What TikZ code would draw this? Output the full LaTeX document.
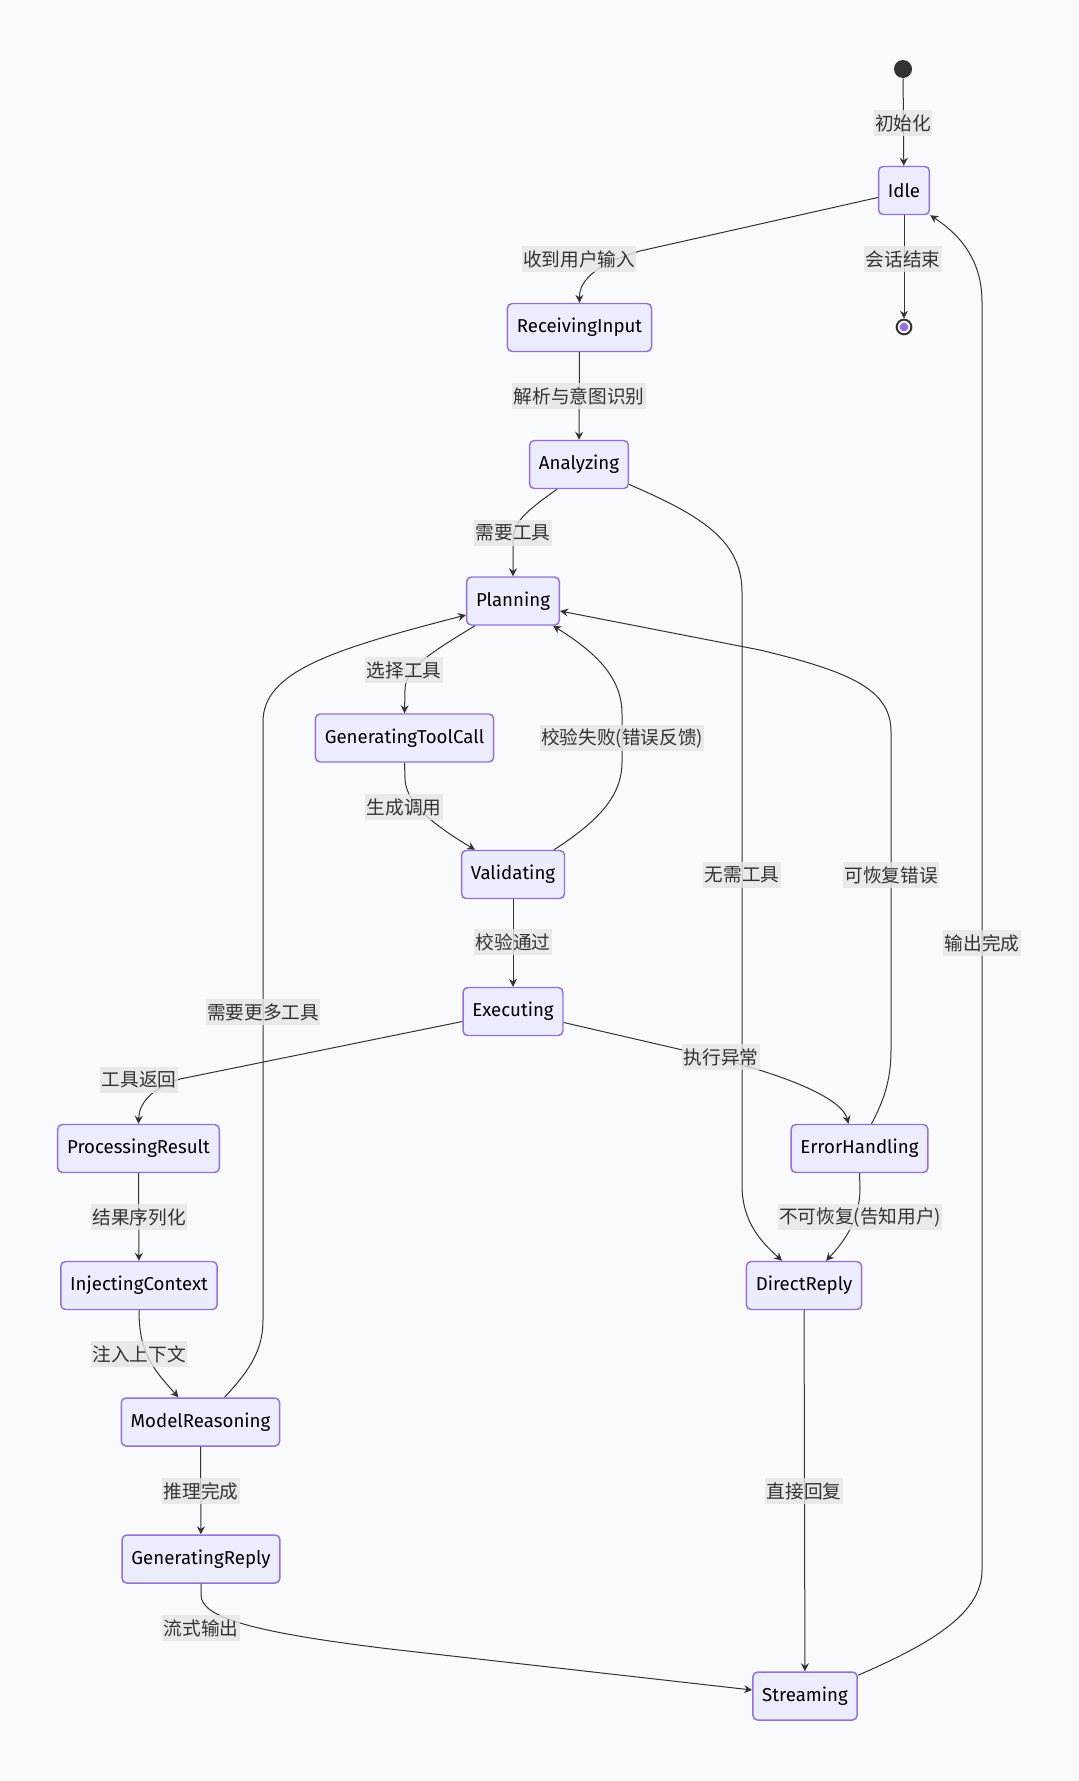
\documentclass[tikz,border=0pt]{standalone}
\usepackage{fontspec}
\setmainfont{Fira Sans}
\newfontfamily\cjk{Noto Sans CJK SC}
\usepackage{tikz}
\usetikzlibrary{arrows.meta, positioning, calc}
\definecolor{bgcol}{HTML}{F9FAFC}
\definecolor{nodefill}{HTML}{ECECFF}
\definecolor{nodeline}{HTML}{9370DB}
\definecolor{ink}{HTML}{333333}
\definecolor{lblfill}{HTML}{E5E5E5}

\begin{document}
\begin{tikzpicture}[x=0.75pt, y=-0.75pt,
  stbox/.style={draw=nodeline, fill=nodefill, line width=1.1pt, rounded corners=3.5pt,
    minimum height=36pt, inner xsep=7pt, text=black, font=\fontsize{14}{16}\selectfont},
  trans/.style={draw=ink, line width=0.75pt, -{Stealth[length=6pt,width=6pt,inset=2pt]}},
  lbl/.style={fill=lblfill, fill opacity=0.8, text opacity=1, text=ink, inner xsep=1pt,
    inner ysep=0pt, minimum height=20pt, font=\cjk\fontsize{14}{16}\selectfont}]
  % Background
  \fill[bgcol] (0,0) rectangle (1078,1781);

  % States
  \node[circle, fill=ink, minimum size=13.5pt, inner sep=0pt] (start) at (903,69) {};
  \node[stbox] (idle) at (904,190.5) {Idle};
  \node[circle, draw=ink, line width=1.5pt, fill=white, minimum size=11pt, inner sep=0pt,
    path picture={\fill[nodeline] (path picture bounding box.center) circle (3.3pt);}]
    (stop) at (904,327) {};
  \node[stbox] (recv) at (579.5,327.5) {ReceivingInput};
  \node[stbox] (ana) at (579,464.5) {Analyzing};
  \node[stbox] (plan) at (513,601) {Planning};
  \node[stbox] (gtc) at (404.5,738) {GeneratingToolCall};
  \node[stbox] (val) at (513,874.5) {Validating};
  \node[stbox] (exe) at (513,1011.5) {Executing};
  \node[stbox] (proc) at (138.5,1148.5) {ProcessingResult};
  \node[stbox] (err) at (859.5,1148.5) {ErrorHandling};
  \node[stbox] (inj) at (139,1285.5) {InjectingContext};
  \node[stbox] (direct) at (804,1285.5) {DirectReply};
  \node[stbox] (model) at (200.5,1422) {ModelReasoning};
  \node[stbox] (genrep) at (201,1559) {GeneratingReply};
  \node[stbox] (stream) at (805,1696) {Streaming};

  % Main flow
  \draw[trans] (start) -- (idle);
  \draw[trans] ($(idle.west)+(0,7)$) -- (640,251) .. controls (598,263) and (579,280) .. (recv.north);
  \draw[trans] (idle) -- (stop);
  \draw[trans] (recv) -- (ana);
  \draw[trans] ($(ana.south)+(-22,0)$) .. controls (525,512) and (513,522) .. (513,542) -- (plan.north);
  \draw[trans] ($(ana.east)+(0,20)$) .. controls (700,515) and (742,540) .. (742,592)
    -- (742,1185) .. controls (742,1225) and (765,1245) .. ($(direct.north)+(-22,0)$);

  % Tool loop
  \draw[trans] ($(plan.south)+(-38,0)$) .. controls (432,652) and (405,668) .. (405,690) -- (gtc.north);
  \draw[trans] (gtc.south) -- (405,778) .. controls (405,802) and (432,824) .. ($(val.north)+(-38,0)$);
  \draw[trans] ($(val.north)+(41,0)$) .. controls (600,820) and (622,795) .. (622,762)
    -- (622,714) .. controls (622,680) and (600,655) .. ($(plan.south)+(40,0)$);
  \draw[trans] (val) -- (exe);
  \draw[trans] ($(exe.west)+(0,10)$) -- (180,1079) .. controls (150,1089) and (139,1104) .. (proc.north);
  \draw[trans] ($(exe.east)+(0,11)$) -- (700,1054) .. controls (785,1074) and (842,1098) .. ($(err.north)+(-11,0)$);
  \draw[trans] ($(err.north)+(12,0)$) .. controls (884,1100) and (891,1080) .. (891,1050)
    -- (891,732) .. controls (891,690) and (852,672) .. (760,650) -- ($(plan.east)+(0,10)$);
  \draw[trans] (err.south) -- (860,1188) .. controls (860,1222) and (842,1244) .. ($(direct.north)+(22,0)$);

  % Context and reply
  \draw[trans] (proc) -- (inj);
  \draw[trans] (inj.south) .. controls (139,1352) and (152,1368) .. ($(model.north)+(-22,0)$);
  \draw[trans] ($(model.north)+(24,0)$) .. controls (250,1370) and (263,1350) .. (263,1320)
    -- (263,722) .. controls (263,672) and (330,650) .. ($(plan.west)+(0,14)$);
  \draw[trans] (model) -- (genrep);
  \draw[trans] (genrep.south) -- (201,1595) .. controls (201,1617) and (250,1632) .. (390,1649)
    -- ($(stream.west)+(0,-6)$);
  \draw[trans] (direct) -- (stream);
  \draw[trans] ($(stream.north east)+(0,4)$) .. controls (940,1640) and (982,1610) .. (982,1570)
    -- (982,302) .. controls (982,262) and (962,236) .. (idle.south east);

  % Labels
  \node[lbl] (l-init) at (903,123) {初始化};
  \node[lbl] (l-input) at (579,259) {收到用户输入};
  \node[lbl] (l-end) at (903,259) {会话结束};
  \node[lbl] (l-parse) at (579,396) {解析与意图识别};
  \node[lbl] (l-need) at (513,533) {需要工具};
  \node[lbl] (l-pick) at (404,670) {选择工具};
  \node[lbl] (l-fail) at (622,738) {校验失败(错误反馈)};
  \node[lbl] (l-gen) at (404,807) {生成调用};
  \node[lbl] (l-none) at (742,875) {无需工具};
  \node[lbl] (l-recov) at (891,875) {可恢复错误};
  \node[lbl] (l-pass) at (513,942) {校验通过};
  \node[lbl] (l-done) at (982,943) {输出完成};
  \node[lbl] (l-more) at (263,1012) {需要更多工具};
  \node[lbl] (l-ret) at (139,1080) {工具返回};
  \node[lbl] (l-exc) at (721,1057) {执行异常};
  \node[lbl] (l-ser) at (139,1217) {结果序列化};
  \node[lbl] (l-fatal) at (860,1217) {不可恢复(告知用户)};
  \node[lbl] (l-ctx) at (139,1354) {注入上下文};
  \node[lbl] (l-infer) at (201,1491) {推理完成};
  \node[lbl] (l-direct) at (804,1491) {直接回复};
  \node[lbl] (l-stream) at (201,1628) {流式输出};
\end{tikzpicture}
\end{document}
